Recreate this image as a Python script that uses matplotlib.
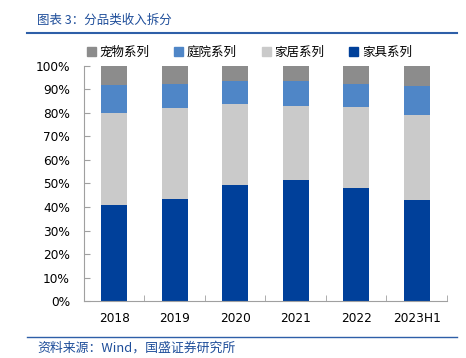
import matplotlib
matplotlib.use("Agg")
import matplotlib.pyplot as plt
import numpy as np
from matplotlib.lines import Line2D
from matplotlib.patches import Patch

plt.rcParams['font.family'] = ['Noto Sans CJK SC', 'DejaVu Sans']

categories = ['2018', '2019', '2020', '2021', '2022', '2023H1']
furniture = [41.0, 43.5, 49.5, 51.5, 48.0, 43.0]   # 家具系列
home = [39.0, 38.5, 34.5, 31.5, 34.5, 36.0]        # 家居系列
garden = [12.0, 10.5, 9.5, 10.5, 10.0, 12.5]       # 庭院系列
pet = [8.0, 7.5, 6.5, 6.5, 7.5, 8.5]               # 宠物系列
series_names = ['宠物系列', '庭院系列', '家居系列', '家具系列']
yticks = [0, 10, 20, 30, 40, 50, 60, 70, 80, 90, 100]

c_furn = '#00409A'
c_home = '#CACACA'
c_garden = '#4F86C7'
c_pet = '#8C8C8C'

fig = plt.figure(figsize=(4.66, 3.58), dpi=100)
ax = fig.add_axes([0.180, 0.159, 0.779, 0.657])

x = np.arange(len(categories))
w = 0.43
b1 = np.array(furniture)
b2 = b1 + np.array(home)
b3 = b2 + np.array(garden)
ax.bar(x, furniture, w, color=c_furn, zorder=2)
ax.bar(x, home, w, bottom=b1, color=c_home, zorder=2)
ax.bar(x, garden, w, bottom=b2, color=c_garden, zorder=2)
ax.bar(x, pet, w, bottom=b3, color=c_pet, zorder=2)

ax.set_xlim(-0.5, len(categories) - 0.5)
ax.set_ylim(0, 100)
ax.set_yticks(yticks)
ax.set_yticklabels([f'{v}%' for v in yticks], fontsize=8.7, family='DejaVu Sans')
ax.set_xticks(x)
ax.set_xticklabels(categories, fontsize=8.7, family='DejaVu Sans')
ax.set_xticks(np.arange(-0.5, len(categories), 1.0), minor=True)
ax.tick_params(axis='x', which='major', length=0, pad=8)
ax.tick_params(axis='x', which='minor', length=4, direction='in', color='#A0A0A0')
ax.tick_params(axis='y', length=4, direction='in', color='#A0A0A0', pad=10)
for s in ['top', 'right']:
    ax.spines[s].set_visible(False)
ax.spines['left'].set_color('#A0A0A0')
ax.spines['bottom'].set_color('#A0A0A0')

handles = [Patch(color=c) for c in [c_pet, c_garden, c_home, c_furn]]
fig.legend(handles, series_names, loc='center', bbox_to_anchor=(0.535, 0.853), ncol=4,
           frameon=False, fontsize=9, handlelength=0.7, handleheight=0.7,
           handletextpad=0.3, columnspacing=2.0)

fig.text(0.08, 0.944, '图表 3：分品类收入拆分', fontsize=9, color='#1F4E9A',
         style='italic', va='center')
fig.add_artist(Line2D([0.058, 0.981], [0.908, 0.908], color='#2E5FA8', lw=1.5,
                      transform=fig.transFigure))
fig.add_artist(Line2D([0.058, 0.981], [0.059, 0.059], color='#2E5FA8', lw=1.0,
                      transform=fig.transFigure))
fig.text(0.08, 0.028, '资料来源：Wind，国盛证券研究所', fontsize=9.3, color='#1F4E9A',
         style='italic', va='center')

fig.savefig('out.png', dpi=100)
